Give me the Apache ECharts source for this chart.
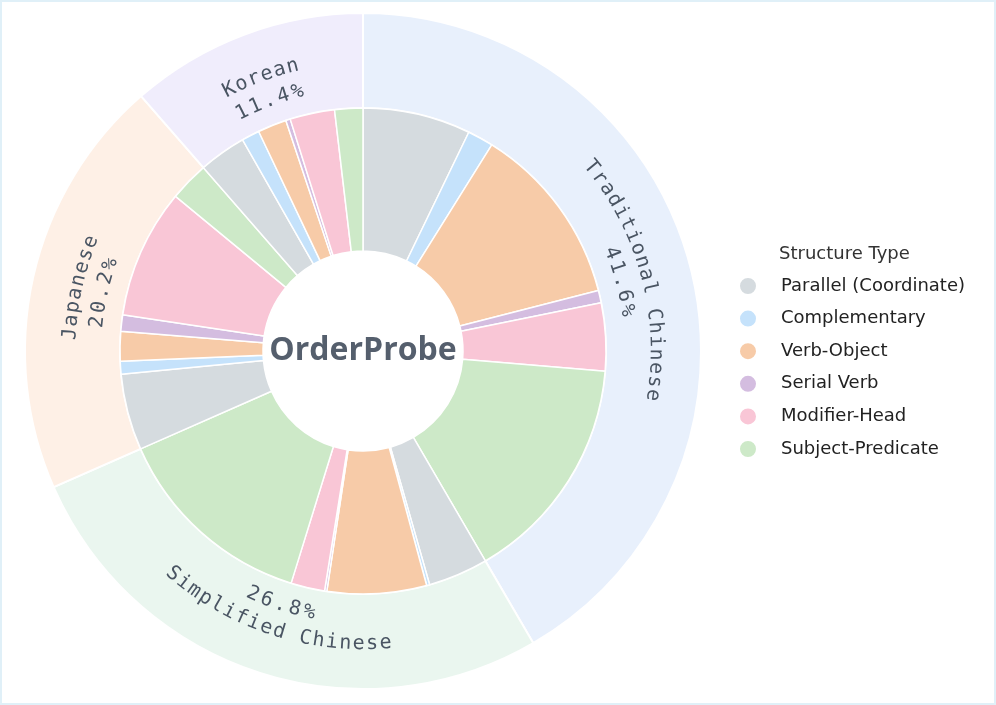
<!DOCTYPE html>
<html>
<head>
<meta charset="utf-8">
<script src="https://cdn.jsdelivr.net/npm/echarts@6/dist/echarts.min.js"></script>
<style>
  html, body { margin: 0; padding: 0; background: #fff; }
  #chart { width: 996px; height: 705px; }
</style>
</head>
<body>
<div id="chart"></div>
<script>
// outer ring: language share (%)
const languages = ["Traditional Chinese", "Simplified Chinese", "Japanese", "Korean"];
const langShares = [41.6, 26.8, 20.2, 11.4];
const langColors = ["#e8f0fc", "#eaf6ef", "#fef0e6", "#f0edfc"];

// inner ring: structure type share inside each language (% of total)
const structureTypes = ["Parallel (Coordinate)", "Complementary", "Verb-Object", "Serial Verb", "Modifier-Head", "Subject-Predicate"];
const structColors = ["#d5dbdf", "#c5e2fb", "#f7cba8", "#d4bde0", "#f9c6d6", "#cde9c8"];
const traditional = [7.17, 1.72, 12.1, 0.83, 4.5, 15.28];
const simplified = [3.98, 0.2, 6.6, 0.15, 2.25, 13.62];
const japanese = [5.07, 0.86, 1.97, 1.08, 8.6, 2.62];
const korean = [3.15, 1.19, 1.92, 0.3, 2.97, 1.87];

const cx = 363, cy = 351;
const textColor = "#4a5563";
const uiFont = "DejaVu Sans";

const innerData = [];
[traditional, simplified, japanese, korean].forEach(vals => {
  vals.forEach((v, i) => {
    innerData.push({ name: structureTypes[i], value: v, itemStyle: { color: structColors[i] } });
  });
});
const outerData = languages.map((l, i) => ({ name: l, value: langShares[i], itemStyle: { color: langColors[i] } }));

// curved labels along the outer ring, one glyph at a time
function arcText(str, thetaDeg, r, step, flip) {
  const els = [];
  const n = str.length;
  const d = step / r;
  const t0 = thetaDeg * Math.PI / 180;
  for (let k = 0; k < n; k++) {
    const off = (k - (n - 1) / 2) * d;
    const t = flip ? t0 - off : t0 + off;
    els.push({
      type: "text",
      z: 100,
      x: cx + r * Math.sin(t),
      y: cy - r * Math.cos(t),
      rotation: flip ? -(t - Math.PI) : -t,
      silent: true,
      style: {
        text: str[k],
        x: 0, y: 0,
        align: "center",
        verticalAlign: "middle",
        font: '20px "DejaVu Sans Mono"',
        fill: textColor
      }
    });
  }
  return els;
}

const total = langShares.reduce((a, b) => a + b, 0);
let graphics = [];
let cum = 0;
languages.forEach((l, i) => {
  const mid = 360 * (cum + langShares[i] / 2) / total;
  cum += langShares[i];
  const flip = Math.cos(mid * Math.PI / 180) < 0;
  graphics = graphics.concat(arcText(l, mid, 293, 13.5, flip));
  graphics = graphics.concat(arcText(langShares[i].toFixed(1) + "%", mid, 267, 14.8, flip));
});

graphics.push({
  type: "text",
  z: 100,
  x: cx, y: cy,
  silent: true,
  style: {
    text: "OrderProbe",
    align: "center",
    verticalAlign: "middle",
    font: 'bold 32px "Open Sans"',
    fill: "#555f6d"
  }
});
graphics.push({
  type: "rect",
  z: 100,
  silent: true,
  shape: { x: 1, y: 1, width: 994, height: 703 },
  style: { fill: null, stroke: "#e0f0f8", lineWidth: 2 }
});

const chart = echarts.init(document.getElementById("chart"));
chart.setOption({
  animation: false,
  title: {
    text: "Structure Type",
    left: 774,
    top: 240,
    textStyle: { fontFamily: uiFont, fontSize: 18, fontWeight: "normal", color: "#333" }
  },
  legend: {
    orient: "vertical",
    left: 733,
    top: 271,
    icon: "circle",
    itemWidth: 18,
    itemHeight: 18,
    itemGap: 12.6,
    selectedMode: false,
    data: structureTypes,
    textStyle: { fontFamily: uiFont, fontSize: 18, color: "#222", padding: [0, 0, 0, 19] }
  },
  graphic: graphics,
  series: [
    {
      name: "Language",
      type: "pie",
      center: [cx, cy],
      radius: [243, 338],
      startAngle: 90,
      clockwise: true,
      silent: true,
      label: { show: false },
      labelLine: { show: false },
      itemStyle: { borderColor: "#fff", borderWidth: 2 },
      data: outerData
    },
    {
      name: "Structure",
      type: "pie",
      center: [cx, cy],
      radius: [100, 243],
      startAngle: 90,
      clockwise: true,
      silent: true,
      label: { show: false },
      labelLine: { show: false },
      itemStyle: { borderColor: "#fff", borderWidth: 1.5 },
      data: innerData
    }
  ]
});
</script>
</body>
</html>
